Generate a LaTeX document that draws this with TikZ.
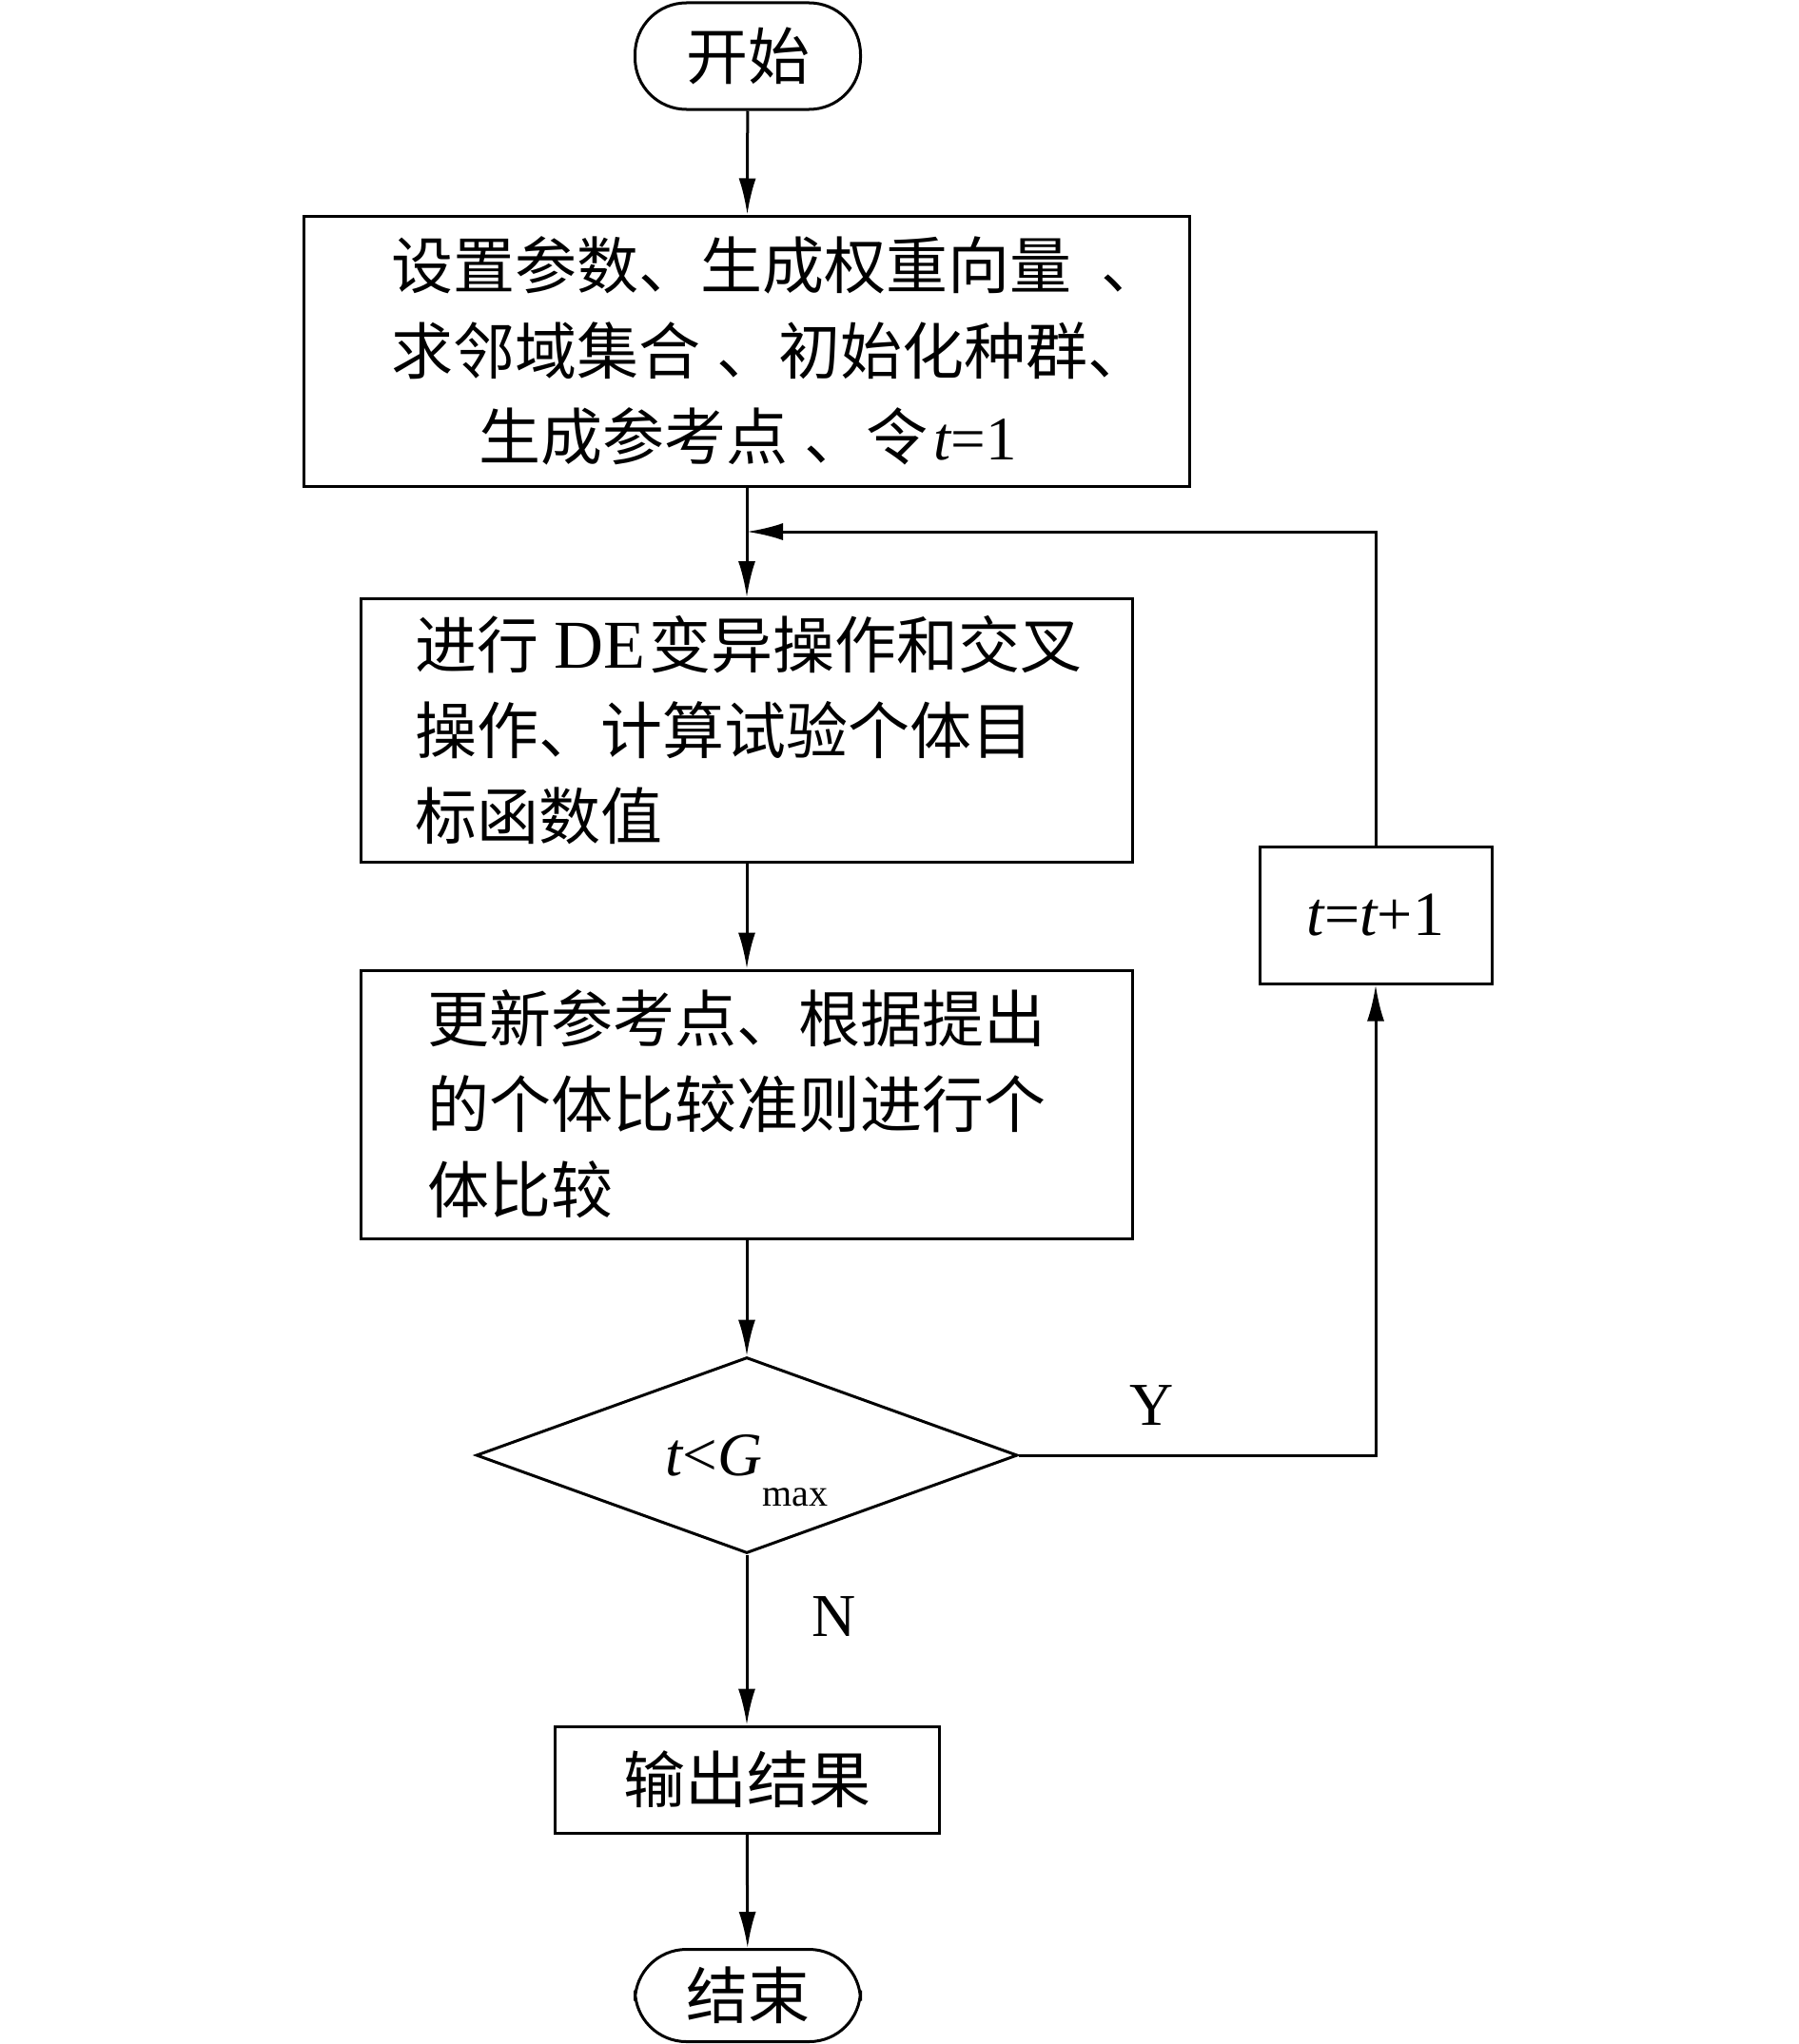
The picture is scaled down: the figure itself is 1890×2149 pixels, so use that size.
\documentclass[tikz,border=0pt]{standalone}
\usepackage{fontspec}
\setmainfont{Liberation Serif}
\newfontfamily\cjk{Noto Sans CJK SC}
\newfontfamily\lat{Liberation Serif}
\usetikzlibrary{arrows.meta,shapes.geometric,positioning}
\tikzset{
  base/.style={draw, line width=3pt, inner sep=0pt, font=\cjk\fontsize{65}{90}\selectfont},
  term/.style={base, rectangle, rounded corners=54pt, minimum width=237pt},
  procbox/.style={base, rectangle, align=center},
  leftbox/.style={base, rectangle, align=left},
  decision/.style={base, diamond, aspect=2.76, minimum width=569pt, minimum height=206pt},
  lbl/.style={font=\lat\fontsize{64}{70}\selectfont, inner sep=0pt},
  arr/.style={line width=3pt, -{Latex[length=38pt,width=18pt]}},
  ln/.style={line width=3pt}
}
\begin{document}
\begin{tikzpicture}[x=1pt,y=-1pt]
\useasboundingbox (0,0) rectangle (1890,2149);
\node[term, minimum height=112pt] (start) at (786,59) {开始};
\node[leftbox, minimum width=931pt, minimum height=284pt, text width=747pt] (b1) at (785,369)
  {\mbox{设置参数、生成权重向量\hspace{31pt}、}\\
   \mbox{求邻域集合\hspace{17pt}、初始化种群、}\\
   \mbox{\hspace{92pt}生成参考点\hspace{17pt}、令\hspace{6pt}{\lat\itshape t}{\lat =1}}};
\node[leftbox, minimum width=811pt, minimum height=277pt, text width=697pt] (b2) at (785,768)
  {\mbox{进行\hspace{16pt}{\lat\fontsize{72}{90}\selectfont DE}\hspace{4pt}变异操作和交叉}\\操作、计算试验个体目\\标函数值};
\node[leftbox, minimum width=811pt, minimum height=282pt, text width=671pt] (b3) at (785,1161)
  {更新参考点、根据提出\\的个体比较准则进行个\\体比较};
\node[decision] (dia) at (785,1530)
  {\lat{\itshape t}<{\itshape G}\raisebox{-0.5em}[0pt][0pt]{\fontsize{40}{40}\selectfont max}};
\node[procbox, minimum width=244pt, minimum height=144pt, font=\lat\fontsize{66}{70}\selectfont] (tb) at (1446,962)
  {{\itshape t}={\itshape t}+1};
\node[procbox, minimum width=404pt, minimum height=112pt] (out) at (785,1871) {输出结果};
\node[term, minimum height=97pt] (end) at (786,2098) {结束};
\coordinate (join) at (785,559);
\node[lbl] (ylab) at (1211,1478) {Y};
\node[lbl] (nlab) at (877,1700) {N};
\draw[arr] (start) -- (b1);
\draw[arr] (b1) -- (b2);
\draw[arr] (b2) -- (b3);
\draw[arr] (b3) -- (dia);
\draw[arr] (dia.east) -| (tb.south);
\draw[arr] (tb.north) |- (join);
\draw[arr] (dia.south) -- (out);
\draw[arr] (out) -- (end);
\end{tikzpicture}
\end{document}
